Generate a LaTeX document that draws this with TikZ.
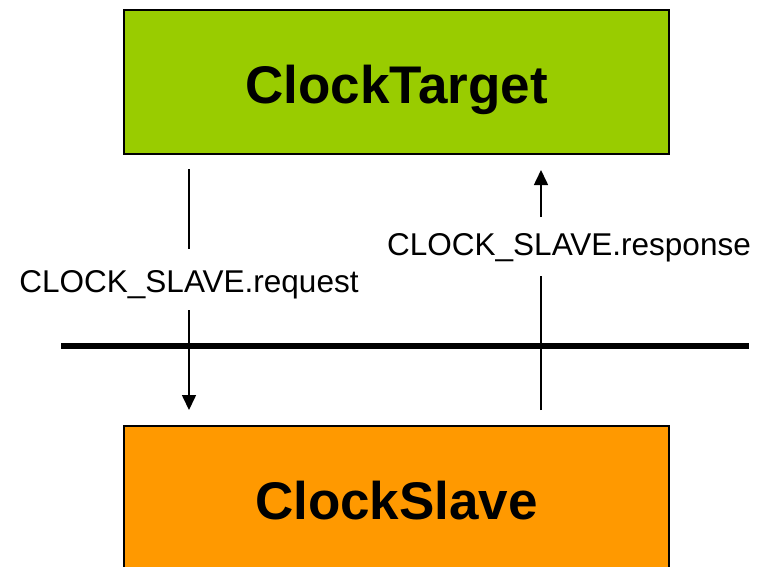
\documentclass[tikz,border=0pt]{standalone}
\usepackage{fontspec}
\setmainfont{Liberation Sans}
\usetikzlibrary{arrows.meta}
\definecolor{tgreen}{HTML}{99CC00}
\definecolor{sorange}{HTML}{FF9900}
\begin{document}
\begin{tikzpicture}[x=1pt,y=-1pt,
  box/.style={draw=black,line width=2.5pt,minimum width=545pt,minimum height=144pt,
    inner sep=0pt,text height=42pt,text depth=0pt,
    font=\fontsize{53}{60}\selectfont\bfseries},
  lbl/.style={font=\fontsize{31.5}{36}\selectfont,inner sep=0pt,anchor=base},
  conn/.style={line width=1.6pt},
  arr/.style={conn,-{Triangle[length=15pt,width=14pt]}},
  bar/.style={line width=6pt}]
\useasboundingbox (0,0) rectangle (757,566);
\node[box,fill=tgreen] (target) at (396.5,82) {ClockTarget};
\node[box,fill=sorange] (slave) at (396.5,498) {ClockSlave};
% bus line
\coordinate (barL) at (61,346);
\coordinate (barR) at (749,346);
\draw[bar] (barL) -- (barR);
% request
\node[lbl] (req) at (189,292) {CLOCK\_SLAVE.request};
\coordinate (reqA) at (189,169);
\coordinate (reqB) at (189,249);
\coordinate (reqC) at (189,310);
\coordinate (reqD) at (189,410);
\draw[conn] (reqA) -- (reqB);
\draw[arr] (reqC) -- (reqD);
% response
\node[lbl] (resp) at (569,255) {CLOCK\_SLAVE.response};
\coordinate (respA) at (541,410);
\coordinate (respB) at (541,276);
\coordinate (respC) at (541,217);
\coordinate (respD) at (541,170);
\draw[conn] (respA) -- (respB);
\draw[arr] (respC) -- (respD);
\end{tikzpicture}
\end{document}
